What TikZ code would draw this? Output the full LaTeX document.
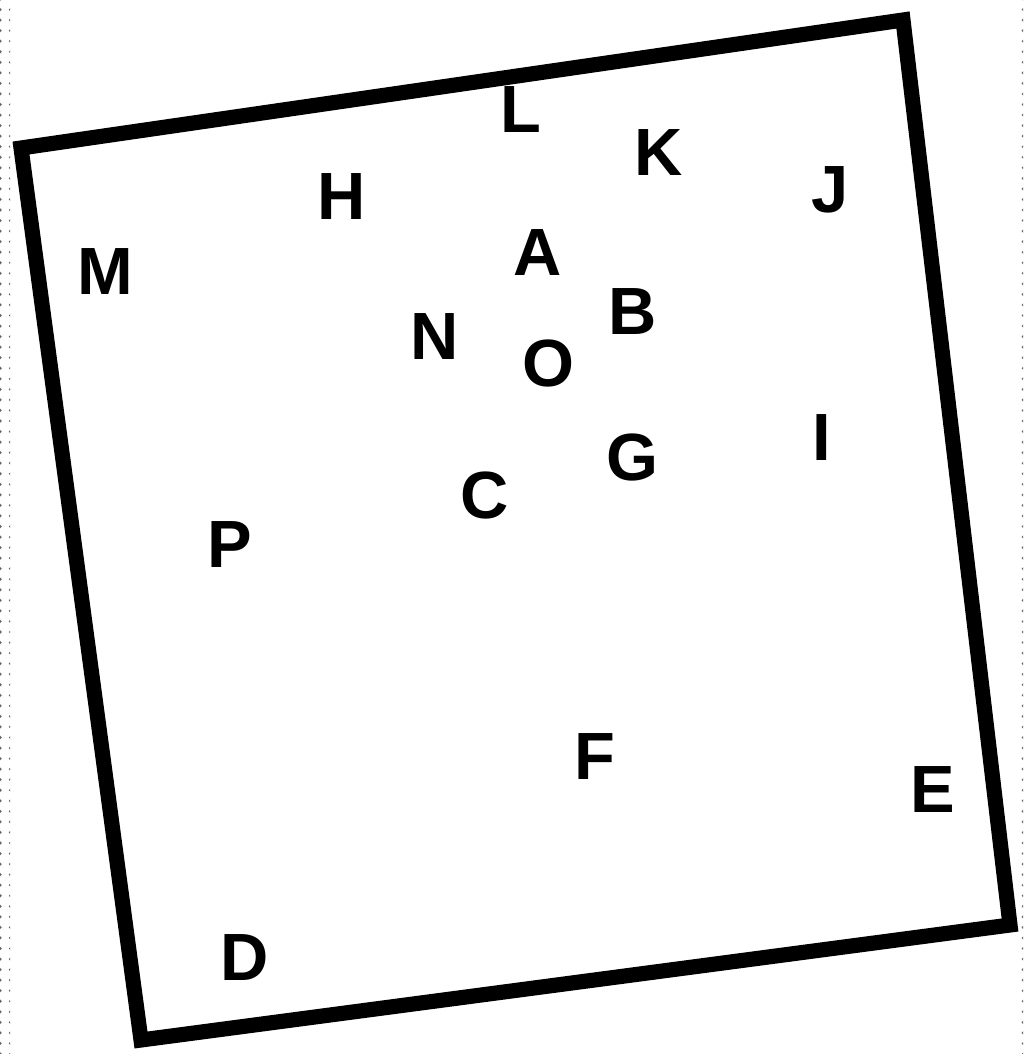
\documentclass[tikz,border=0pt]{standalone}
\usepackage{fontspec}
\setmainfont{Liberation Sans}
\usetikzlibrary{patterns}
\tikzset{
  pt/.style={font=\fontsize{19}{19}\selectfont\bfseries, inner sep=0pt},
  frame/.style={line width=4.3pt, line join=miter},
  edgestrip/.style={pattern=dots, pattern color=black!60, draw=none}
}
\begin{document}
\begin{tikzpicture}[x=0.01cm,y=-0.01cm]
\useasboundingbox (0,0) rectangle (1023,1054);
% scan edges
\fill[edgestrip] (0,0) rectangle (10,1054);
\fill[edgestrip] (1017,0) rectangle (1023,1054);
% the square
\draw[frame] (21,148) -- (903,20) -- (1010,925) -- (141,1040) -- cycle;
% points
\node[pt] (l) at (521,110) {L};
\node[pt] (k) at (659,153) {K};
\node[pt] (j) at (830,190) {J};
\node[pt] (h) at (342,197) {H};
\node[pt] (m) at (105,272) {M};
\node[pt] (a) at (538,253) {A};
\node[pt] (b) at (633,312) {B};
\node[pt] (n) at (435,337) {N};
\node[pt] (o) at (548,363) {O};
\node[pt] (i) at (822,438) {I};
\node[pt] (g) at (632,457) {G};
\node[pt] (c) at (485,495) {C};
\node[pt] (p) at (230,545) {P};
\node[pt] (f) at (595,757) {F};
\node[pt] (e) at (933,790) {E};
\node[pt] (d) at (245,958) {D};
\end{tikzpicture}
\end{document}
